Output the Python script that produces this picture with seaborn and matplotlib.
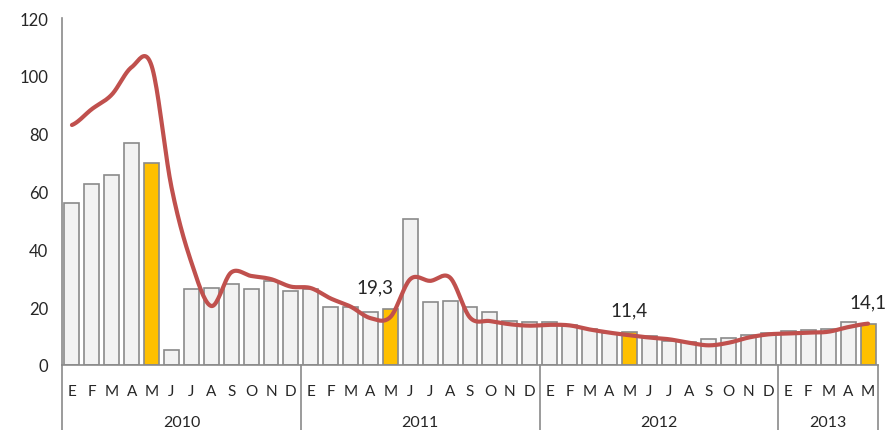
"""Barras mensuales con línea suavizada, 2010-2013."""

import matplotlib
matplotlib.use("Agg")
import matplotlib.pyplot as plt
import matplotlib.transforms as mtransforms
import numpy as np
import pandas as pd
import seaborn as sns


MESES = ["E", "F", "M", "A", "M", "J", "J", "A", "S", "O", "N", "D"]
ANIOS = ["2010", "2011", "2012", "2013"]
MESES_POR_ANIO = [12, 12, 12, 5]

barras = [
    56.0, 62.5, 65.7, 76.7, 69.9, 5.2, 26.4, 26.6, 27.9, 26.4, 29.1, 25.6,
    26.2, 20.2, 19.9, 18.5, 19.3, 50.4, 21.9, 22.3, 20.2, 18.2, 15.1, 14.9,
    15.0, 13.8, 12.5, 11.0, 11.4, 10.0, 8.3, 8.1, 8.9, 9.2, 10.4, 11.0,
    11.8, 12.2, 12.5, 14.7, 14.1,
]
linea = [
    83.0, 88.5, 93.5, 103.0, 103.5, 61.5, 35.5, 20.4, 32.0, 30.8, 29.7, 27.1,
    26.6, 23.0, 20.2, 16.2, 16.6, 29.7, 29.1, 30.2, 16.4, 15.2, 14.1, 13.6,
    13.9, 13.7, 12.3, 11.2, 10.3, 9.5, 8.9, 7.7, 6.8, 7.7, 9.5, 10.6,
    10.9, 11.2, 11.5, 13.1, 14.3,
]
destacados = {4: "", 16: "19,3", 28: "11,4", 40: "14,1"}

GRIS_BARRA = "#F2F2F2"
AMARILLO = "#FFC000"
ROJO = "#C0504D"
GRIS_EJE = "#8A8A8A"


def catmull_rom(y, pasos=20):
    y = np.asarray(y, dtype=float)
    p = np.concatenate([[y[0]], y, [y[-1]]])
    xs, ys = [], []
    for i in range(len(y) - 1):
        p0, p1, p2, p3 = p[i], p[i + 1], p[i + 2], p[i + 3]
        t = np.linspace(0, 1, pasos, endpoint=False)
        v = 0.5 * ((2 * p1) + (-p0 + p2) * t + (2 * p0 - 5 * p1 + 4 * p2 - p3) * t**2
                   + (-p0 + 3 * p1 - 3 * p2 + p3) * t**3)
        xs.append(i + t)
        ys.append(v)
    xs.append([len(y) - 1])
    ys.append([y[-1]])
    return np.concatenate(xs), np.concatenate(ys)


etiquetas_mes = [MESES[i % 12] for i in range(len(barras))]
df = pd.DataFrame({"pos": range(len(barras)), "valor": barras})
colores = [AMARILLO if i in destacados else GRIS_BARRA for i in range(len(barras))]

sns.set_style("white")
plt.rcParams["font.family"] = ["Lato", "DejaVu Sans"]

fig = plt.figure(figsize=(8.86, 4.31), dpi=100)
ax = fig.add_axes([62 / 886, 65 / 431, (878 - 62) / 886, (366 - 19) / 431])

sns.barplot(data=df, x="pos", y="valor", hue="pos", palette=colores, legend=False,
            saturation=1, width=0.75, edgecolor=GRIS_EJE, linewidth=1.2, ax=ax,
            zorder=2)

xs, ys = catmull_rom(linea)
curva = pd.DataFrame({"x": xs, "y": ys})
sns.lineplot(data=curva, x="x", y="y", color=ROJO, linewidth=3.0, ax=ax, zorder=3,
             solid_capstyle="round")

for i, texto in destacados.items():
    if not texto:
        continue
    dx = -11 if i == 16 else 0
    ax.annotate(texto, (i, barras[i]), xytext=(dx, 16), textcoords="offset points",
                ha="center", va="center", fontsize=13.5, annotation_clip=False)

ax.set_xlim(-0.5, len(barras) - 0.5)
ax.set_ylim(0, 120)
ax.set_yticks(range(0, 121, 20))
ax.set_xticks(range(len(barras)))
ax.set_xticklabels(etiquetas_mes, fontsize=11)
ax.tick_params(axis="x", length=0, pad=14)
ax.tick_params(axis="y", length=0, pad=10, labelsize=12)
ax.set_xlabel("")
ax.set_ylabel("")

for lado in ["top", "right"]:
    ax.spines[lado].set_visible(False)
for lado in ["left", "bottom"]:
    ax.spines[lado].set_color(GRIS_EJE)
    ax.spines[lado].set_linewidth(1.2)

trans = mtransforms.blended_transform_factory(ax.transData, ax.transAxes)
fondo = -65 / 347
limites = np.concatenate([[0], np.cumsum(MESES_POR_ANIO)]) - 0.5
for x in limites:
    ax.plot([x, x], [0, fondo], transform=trans, color=GRIS_EJE, linewidth=1.2,
            clip_on=False)
for anio, a, b in zip(ANIOS, limites[:-1], limites[1:]):
    ax.text((a + b) / 2, -57 / 347, anio, transform=trans, ha="center", va="center",
            fontsize=11.5)

fig.savefig("out.png", dpi=100)
